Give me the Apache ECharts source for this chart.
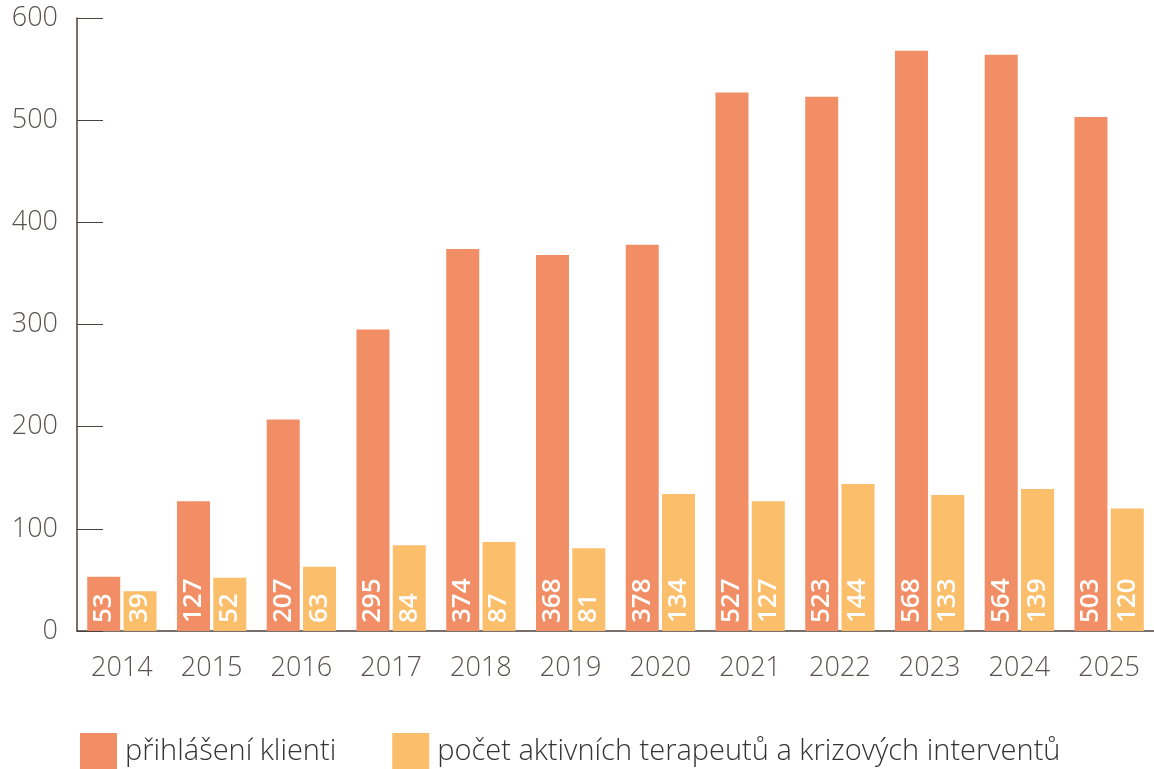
<!DOCTYPE html>
<html>
<head>
<meta charset="utf-8">
<script src="https://cdn.jsdelivr.net/npm/echarts@6/dist/echarts.min.js"></script>
<style>
  * { margin: 0; padding: 0; }
  body { background: #fff; }
</style>
</head>
<body>
<div id="main" style="width:1154px;height:769px;"></div>
<script>
  // data
  var years = ['2014', '2015', '2016', '2017', '2018', '2019', '2020', '2021', '2022', '2023', '2024', '2025'];
  var klienti = [53, 127, 207, 295, 374, 368, 378, 527, 523, 568, 564, 503];
  var terapeuti = [39, 52, 63, 84, 87, 81, 134, 127, 144, 133, 139, 120];
  var seriesNames = ['přihlášení klienti', 'počet aktivních terapeutů a krizových interventů'];

  var axisColor = '#4a403d';
  var textColor = '#5a5250';
  var font = '"Open Sans", sans-serif';

  // popisky uvnitř sloupců
  var barLabel = {
    show: true,
    position: 'insideBottom',
    distance: 8,
    rotate: 90,
    align: 'left',
    verticalAlign: 'middle',
    color: '#fff',
    fontFamily: font,
    fontSize: 26,
    fontWeight: 600
  };

  var chart = echarts.init(document.getElementById('main'));
  chart.setOption({
    animation: false,
    textStyle: { fontFamily: font },
    grid: { left: 77, top: 18, bottom: 138, width: 1080 },
    legend: {
      top: 733,
      left: 80,
      padding: 0,
      itemWidth: 37,
      itemHeight: 37,
      itemGap: 56,
      icon: 'rect',
      textStyle: { fontSize: 29, color: '#333', fontFamily: font, fontWeight: 300, padding: [0, 0, 0, 3] },
      data: seriesNames
    },
    xAxis: {
      type: 'category',
      data: years,
      axisLine: { lineStyle: { color: axisColor, width: 1.5 } },
      axisTick: { inside: true, length: 16, lineStyle: { color: axisColor } },
      axisLabel: { fontSize: 27, color: textColor, margin: 24, fontWeight: 300 }
    },
    yAxis: {
      type: 'value',
      min: 0,
      max: 600,
      interval: 100,
      splitLine: { show: false },
      axisLine: { show: true, lineStyle: { color: axisColor, width: 1.5 } },
      axisTick: { show: true, inside: true, length: 26, lineStyle: { color: axisColor } },
      axisLabel: { fontSize: 27, color: textColor, margin: 19, fontWeight: 300 }
    },
    series: [
      {
        name: seriesNames[0],
        type: 'bar',
        barWidth: 33,
        barGap: '10%',
        itemStyle: { color: '#f28e65' },
        label: barLabel,
        data: klienti
      },
      {
        name: seriesNames[1],
        type: 'bar',
        barWidth: 33,
        barGap: '10%',
        itemStyle: { color: '#fbbe6a' },
        label: barLabel,
        data: terapeuti
      }
    ]
  });
</script>
</body>
</html>
